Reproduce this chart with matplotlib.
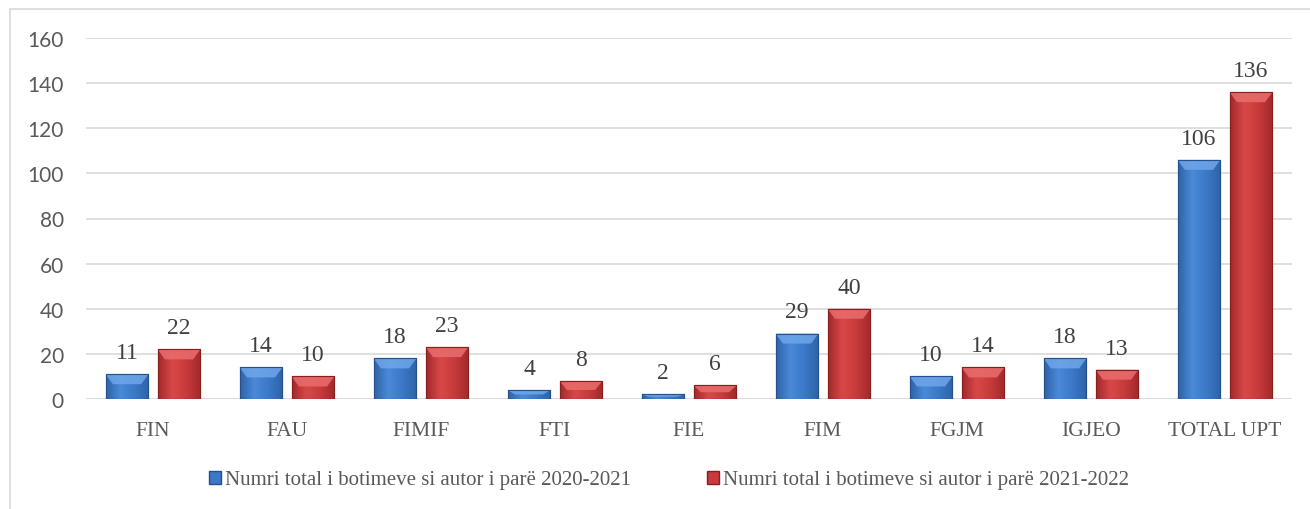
import matplotlib.pyplot as plt
import matplotlib.patches as mpatches
import numpy as np
from matplotlib.colors import LinearSegmentedColormap

categories = ['FIN', 'FAU', 'FIMIF', 'FTI', 'FIE', 'FIM', 'FGJM', 'IGJEO', 'TOTAL UPT']
vals_2021 = [11, 14, 18, 4, 2, 29, 10, 18, 106]
vals_2022 = [22, 10, 23, 8, 6, 40, 14, 13, 136]
series_names = ['Numri total i botimeve si autor i parë 2020-2021',
                'Numri total i botimeve si autor i parë 2021-2022']

blue = ['#2f63a8', '#4a8ad8', '#3b78c8', '#25508c']
red = ['#a2292b', '#d94848', '#c83a3b', '#85201f']
blue_top = '#6fa6ea'
red_top = '#ea6d6d'

fig = plt.figure(figsize=(13.1, 5.1), dpi=100)
ax = fig.add_axes([86 / 1310, 1 - 400 / 510, (1292 - 86) / 1310, 361 / 510])

# chart frame border
fig.patches.append(mpatches.Rectangle((10 / 1310, -0.1), 1.2, 0.1 + 500 / 510, transform=fig.transFigure,
                                      fill=False, edgecolor='#d9d9d9', linewidth=1.2))

x = np.arange(len(categories))
w = 0.32
off = 0.194

def bevel_bars(xs, vals, cols, topc, label):
    bars = ax.bar(xs, vals, w, color=cols[2], edgecolor=cols[3], linewidth=0.8, label=label, zorder=2)
    cmap = LinearSegmentedColormap.from_list('g', [cols[0], cols[1], cols[2], cols[0]])
    grad = np.linspace(0, 1, 64).reshape(1, -1)
    dy = 10 * 160 / 361
    for b in bars:
        x0, h, bw = b.get_x(), b.get_height(), b.get_width()
        im = ax.imshow(grad, cmap=cmap, aspect='auto', extent=(x0, x0 + bw, 0, h), zorder=2.1)
        im.set_clip_path(b)
        d = min(dy, h / 2)
        dx = 0.055
        ax.add_patch(mpatches.Polygon([(x0, h), (x0 + bw, h), (x0 + bw - dx, h - d), (x0 + dx, h - d)],
                                      closed=True, facecolor=topc, edgecolor='none', alpha=0.85, zorder=2.2))
        ax.add_patch(mpatches.Rectangle((x0, 0), bw, h, fill=False, edgecolor=cols[3], linewidth=0.8, zorder=2.3))
        ax.annotate(str(int(h)), (x0 + bw / 2, h), xytext=(0, 8), textcoords='offset points',
                    ha='center', va='bottom', fontsize=17, family='Liberation Serif', color='#404040')
    return bars

b1 = bevel_bars(x - off, vals_2021, blue, blue_top, series_names[0])
b2 = bevel_bars(x + off, vals_2022, red, red_top, series_names[1])

ax.set_xlim(-0.5, len(categories) - 0.5)
ax.set_ylim(0, 160)
ax.set_yticks(range(0, 161, 20))
ax.yaxis.grid(True, color='#d9d9d9', linewidth=1.2, zorder=0)
ax.set_axisbelow(True)
for s in ax.spines.values():
    s.set_visible(False)
ax.axhline(0, color='#d9d9d9', linewidth=1.2, zorder=1)
ax.tick_params(axis='both', length=0)
ax.tick_params(axis='y', pad=16, labelsize=15, labelcolor='#595959')
ax.tick_params(axis='x', pad=16, labelcolor='#595959')
for t in ax.get_yticklabels():
    t.set_family('Lato')
ax.set_xticks(x)
ax.set_xticklabels(categories, fontsize=15.5, family='Liberation Serif')

handles = [mpatches.Patch(facecolor=blue[2], edgecolor=blue[3]),
           mpatches.Patch(facecolor=red[2], edgecolor=red[3])]
fig.legend(handles, series_names, loc='center', bbox_to_anchor=(669 / 1310, 1 - 481 / 510), ncol=2,
           frameon=False, prop={'family': 'Liberation Serif', 'size': 15}, labelcolor='#595959',
           handlelength=0.6, handleheight=0.6, handletextpad=0.2, columnspacing=3.6)

fig.savefig('out.png', dpi=100, facecolor='white')
